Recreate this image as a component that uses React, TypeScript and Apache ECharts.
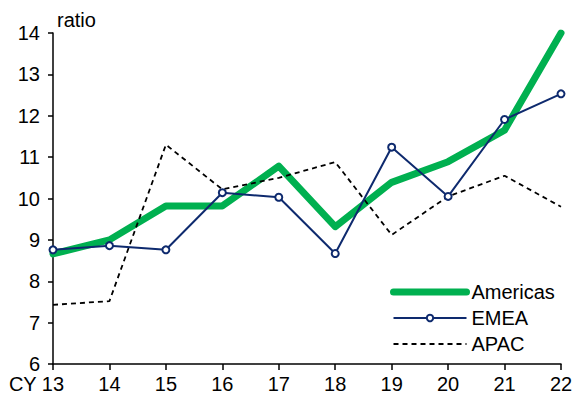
import React, { useEffect, useRef } from "react";
import * as echarts from "echarts";

const categories = ["13", "14", "15", "16", "17", "18", "19", "20", "21", "22"];
const americas = [8.66, 9.0, 9.82, 9.82, 10.78, 9.32, 10.39, 10.89, 11.65, 14.0];
const emea = [8.76, 8.86, 8.76, 10.14, 10.03, 8.67, 11.24, 10.05, 11.91, 12.53];
const apac = [7.43, 7.52, 11.3, 10.22, 10.5, 10.88, 9.12, 10.05, 10.55, 9.8];
const yTicks = { min: 6, max: 14, interval: 1 };

const FONT = "'Liberation Sans', Arial, sans-serif";
const GREEN = "#00B050";
const NAVY = "#0E2A6E";

export default function App() {
  const ref = useRef<HTMLDivElement>(null);
  useEffect(() => {
    if (!ref.current) return;
    document.body.style.margin = "0";
    const chart = echarts.init(ref.current, undefined, { renderer: "svg" });
    chart.setOption({
      animation: false,
      backgroundColor: "#ffffff",
      textStyle: { fontFamily: FONT },
      grid: { left: 53, right: 17, top: 33, bottom: 41, containLabel: false },
      legend: {
        orient: "vertical",
        left: 385,
        top: 277,
        itemWidth: 73,
        itemHeight: 8,
        itemGap: 6,
        textStyle: { fontFamily: FONT, fontSize: 20, color: "#000" },
        data: [
          {
            name: "Americas",
            itemStyle: { opacity: 0 },
            lineStyle: { width: 7, color: GREEN, cap: "round" },
          },
          { name: "EMEA", lineStyle: { width: 2, color: NAVY } },
          {
            name: "APAC",
            itemStyle: { opacity: 0 },
            lineStyle: { width: 1.8, color: "#000", type: [5, 4] },
          },
        ],
      },
      xAxis: {
        type: "category",
        data: categories,
        boundaryGap: false,
        axisLine: { lineStyle: { color: "#000", width: 1.5 } },
        axisTick: { show: true, length: 6, lineStyle: { color: "#000", width: 1.5 } },
        axisLabel: {
          color: "#000",
          fontSize: 20,
          fontFamily: FONT,
          margin: 10,
          interval: 0,
          formatter: (v: string, i: number) => (i === 0 ? "CY " + v + "{s|}" : v),
          rich: { s: { width: 33 } },
        },
        splitLine: { show: false },
      },
      yAxis: {
        type: "value",
        min: yTicks.min,
        max: yTicks.max,
        interval: yTicks.interval,
        name: "ratio",
        nameLocation: "end",
        nameGap: 3,
        nameTextStyle: {
          color: "#000",
          fontSize: 20,
          fontFamily: FONT,
          align: "left",
          verticalAlign: "bottom",
          padding: [0, 0, 0, 4],
        },
        axisLine: { show: true, lineStyle: { color: "#000", width: 1.5 } },
        axisTick: { show: true, length: 5, lineStyle: { color: "#000", width: 1.5 } },
        axisLabel: { color: "#000", fontSize: 20, fontFamily: FONT, margin: 13 },
        splitLine: { show: false },
      },
      series: [
        {
          name: "Americas",
          type: "line",
          data: americas,
          symbol: "none",
          lineStyle: { color: GREEN, width: 7, join: "round", cap: "round" },
          itemStyle: { color: GREEN },
          z: 2,
        },
        {
          name: "EMEA",
          type: "line",
          data: emea,
          symbol: "emptyCircle",
          symbolSize: 7,
          lineStyle: { color: NAVY, width: 2 },
          itemStyle: { color: NAVY, borderWidth: 2, borderColor: NAVY },
          z: 4,
        },
        {
          name: "APAC",
          type: "line",
          data: apac,
          symbol: "none",
          lineStyle: { color: "#000", width: 1.8, type: [5, 4] },
          itemStyle: { color: "#000" },
          z: 3,
        },
      ],
    });
    return () => chart.dispose();
  }, []);
  return (
    <div
      ref={ref}
      style={{ position: "absolute", left: 0, top: 0, width: 578, height: 405 }}
    />
  );
}
